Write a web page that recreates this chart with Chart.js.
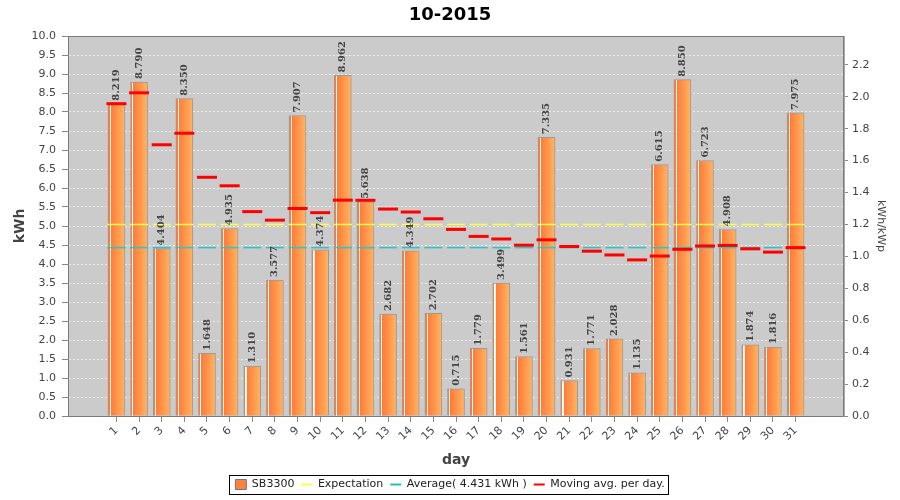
<!DOCTYPE html>
<html><head><meta charset="utf-8">
<script src="https://cdn.jsdelivr.net/npm/chart.js@4.4.0/dist/chart.umd.min.js"></script>
<style>html,body{margin:0;padding:0;background:#fff}</style>
</head><body>
<canvas id="c" width="900" height="500"></canvas>
<script>
const chartTitle = '10-2015';
const days = [1,2,3,4,5,6,7,8,9,10,11,12,13,14,15,16,17,18,19,20,21,22,23,24,25,26,27,28,29,30,31];
const production = [8.219,8.790,4.404,8.350,1.648,4.935,1.310,3.577,7.907,4.374,8.962,5.638,2.682,4.349,2.702,0.715,1.779,3.499,1.561,7.335,0.931,1.771,2.028,1.135,6.615,8.850,6.723,4.908,1.874,1.816,7.975];
const movingAvg = [8.219,8.505,7.138,7.441,6.282,6.058,5.379,5.154,5.460,5.351,5.680,5.676,5.446,5.368,5.190,4.910,4.726,4.658,4.495,4.637,4.460,4.338,4.238,4.108,4.209,4.387,4.474,4.489,4.399,4.313,4.431];
const expectation = 5.04;
const average = 4.431;
const kWp = 4.2;
const leftMax = 10;
const leftStep = 0.5;
const rightStep = 0.2;
const xMin = -1.14, xMax = 33.14;

const FONT = 'DejaVu Sans';

function barFill(ctx) {
  const chart = ctx.chart;
  if (ctx.type !== 'data' || !chart.chartArea) return '#ff8c45';
  const cx = chart.scales.x.getPixelForValue(ctx.parsed.x);
  const w = 17;
  const g = chart.ctx.createLinearGradient(cx - w / 2, 0, cx + w / 2, 0);
  g.addColorStop(0, '#ff7a36');
  g.addColorStop(0.10, '#ff7a36');
  g.addColorStop(0.10, '#ffffff');
  g.addColorStop(0.17, '#fff4ea');
  g.addColorStop(0.17, '#ff7b38');
  g.addColorStop(1, '#ffb562');
  return g;
}

const plotBg = {
  id: 'plotBg',
  beforeDraw(chart) {
    const a = chart.chartArea, c = chart.ctx;
    c.save(); c.fillStyle = '#cbcbcb';
    c.fillRect(a.left, a.top, a.right - a.left, a.bottom - a.top);
    c.restore();
  },
  afterDraw(chart) {
    const a = chart.chartArea, c = chart.ctx;
    c.save(); c.strokeStyle = '#7a7a7a'; c.lineWidth = 1;
    c.strokeRect(Math.round(a.left) + 0.5, Math.round(a.top) + 0.5, Math.round(a.right - a.left) - 1, Math.round(a.bottom - a.top));
    const hb = chart.legend.legendHitBoxes;
    if (hb && hb.length) {
      let l = Infinity, r = -Infinity, t = Infinity, b = -Infinity;
      hb.forEach(h => { l = Math.min(l, h.left); r = Math.max(r, h.left + h.width); t = Math.min(t, h.top); b = Math.max(b, h.top + h.height); });
      c.strokeStyle = '#000';
      c.strokeRect(Math.round(l - 6) + 0.5, Math.round(t - 4) + 0.5, Math.round(r - l + 10), Math.round(b - t + 8));
    }
    c.restore();
  }
};

const valueLabels = {
  id: 'valueLabels',
  afterDatasetsDraw(chart) {
    const meta = chart.getDatasetMeta(0);
    const c = chart.ctx;
    c.save();
    c.fillStyle = '#444';
    c.font = 'bold 10px "DejaVu Serif"';
    c.textAlign = 'left';
    c.textBaseline = 'middle';
    meta.data.forEach((bar, i) => {
      c.save();
      c.translate(bar.x, bar.y - 3);
      c.rotate(-Math.PI / 2);
      c.fillText(production[i].toFixed(3), 0, 0);
      c.restore();
    });
    c.restore();
  }
};

new Chart(document.getElementById('c'), {
  data: {
    datasets: [
      {
        type: 'bar', label: 'SB3300',
        data: days.map((d, i) => ({ x: d, y: production[i] })),
        backgroundColor: barFill, borderColor: '#9a9a9a', borderWidth: 1,
        barThickness: 17, yAxisID: 'y', order: 4,
        legendStyle: 'rect', legendFill: '#ff8040', legendStroke: '#777', legendLW: 1
      },
      {
        type: 'line', label: 'Expectation',
        data: days.map(d => ({ x: d, y: expectation })),
        showLine: false, pointStyle: 'line', pointRadius: 9, pointHoverRadius: 9,
        pointBorderWidth: 1.5, pointBorderColor: '#ffff48', borderColor: '#ffff48',
        yAxisID: 'y', order: 3,
        legendStyle: 'line', legendFill: '#ffff40', legendStroke: '#ffff40', legendLW: 2
      },
      {
        type: 'line', label: 'Average( 4.431 kWh )',
        data: days.map(d => ({ x: d, y: average })),
        showLine: false, pointStyle: 'line', pointRadius: 9, pointHoverRadius: 9,
        pointBorderWidth: 1.6, pointBorderColor: '#30c4c8', borderColor: '#30c4c8',
        yAxisID: 'y', order: 2,
        legendStyle: 'line', legendFill: '#20c0c0', legendStroke: '#20c0c0', legendLW: 2
      },
      {
        type: 'line', label: 'Moving avg. per day.',
        data: days.map((d, i) => ({ x: d, y: movingAvg[i] })),
        showLine: false, pointStyle: 'line', pointRadius: 10, pointHoverRadius: 10,
        pointBorderWidth: 3, pointBorderColor: '#ff0000', borderColor: '#ff0000',
        yAxisID: 'y', order: 1,
        legendStyle: 'line', legendFill: '#ff0000', legendStroke: '#ff0000', legendLW: 2
      }
    ]
  },
  options: {
    responsive: false, animation: false, devicePixelRatio: 1,
    layout: { padding: 0 },
    plugins: {
      tooltip: { enabled: false },
      title: {
        display: true, text: chartTitle, color: '#000',
        font: { family: FONT, size: 18, weight: 'bold' },
        padding: { top: 5, bottom: 9.4 }
      },
      legend: {
        position: 'bottom',
        labels: {
          usePointStyle: true, pointStyleWidth: 11, boxHeight: 10, padding: 7,
          color: '#222', font: { family: FONT, size: 11 },
          generateLabels(chart) {
            return chart.data.datasets.map((ds, i) => ({
              text: ds.label, fillStyle: ds.legendFill, strokeStyle: ds.legendStroke,
              lineWidth: ds.legendLW, pointStyle: ds.legendStyle, hidden: false,
              datasetIndex: i, fontColor: '#222'
            }));
          }
        }
      }
    },
    scales: {
      x: {
        type: 'linear', min: xMin, max: xMax, position: 'bottom', offset: false,
        afterBuildTicks(scale) { scale.ticks = days.map(d => ({ value: d })); },
        afterFit(scale) { scale.height = 56; },
        ticks: {
          autoSkip: false, minRotation: 45, maxRotation: 45, includeBounds: false,
          color: '#444', font: { family: FONT, size: 11 }, padding: 2,
          callback: v => String(v)
        },
        grid: { drawOnChartArea: false, tickLength: 6, tickColor: '#888', offset: false },
        border: { color: '#888' },
        title: {
          display: true, text: 'day', color: '#444',
          font: { family: FONT, size: 14, weight: 'bold' },
          padding: { top: 0, bottom: 3 }
        }
      },
      y: {
        type: 'linear', position: 'left', min: 0, max: leftMax,
        afterFit(scale) { scale.width = 68; },
        ticks: {
          stepSize: leftStep, color: '#444', font: { family: FONT, size: 11 }, padding: 6,
          callback: v => Number(v).toFixed(1)
        },
        grid: { color: '#ececec', lineWidth: 1, tickLength: 6, tickColor: '#888' },
        border: { color: '#888', dash: [2, 2] },
        title: {
          display: true, text: 'kWh', color: '#444',
          font: { family: FONT, size: 14, weight: 'bold' },
          padding: { top: 11.6, bottom: 0 }
        }
      },
      y2: {
        type: 'linear', position: 'right', min: 0, max: leftMax / kWp,
        afterFit(scale) { scale.width = 56; },
        ticks: {
          stepSize: rightStep, includeBounds: false, color: '#444',
          font: { family: FONT, size: 11 }, padding: 4,
          callback: v => Number(v).toFixed(1)
        },
        grid: { drawOnChartArea: false, tickLength: 4, tickColor: '#888' },
        border: { color: '#aaa' },
        title: {
          display: true, text: 'kWh/kWp', color: '#444',
          font: { family: FONT, size: 11 },
          padding: { top: 13, bottom: 0 }
        }
      }
    }
  },
  plugins: [plotBg, valueLabels]
});
</script>
</body></html>
